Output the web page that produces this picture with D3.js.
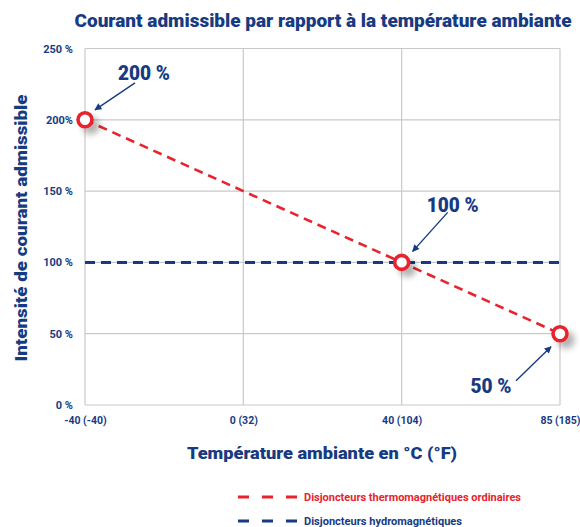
<!DOCTYPE html>
<html><head><meta charset="utf-8">
<script src="https://cdn.jsdelivr.net/npm/d3@7"></script>
<style>
html,body{margin:0;padding:0;background:#fff;}
svg{display:block;font-family:Roboto,"Open Sans",sans-serif;}
</style></head>
<body>
<svg id="chart" width="580" height="527"></svg>
<script>
// ---- data ----
const categories = ["-40 (-40)", "0 (32)", "40 (104)", "85 (185)"];
const thermoValues = [200, 150, 100, 50];
const hydroValues = [100, 100, 100, 100];
const markerLabels = ["200 %", null, "100 %", "50 %"];
const yTickValues = [0, 50, 100, 150, 200, 250];
const yTickLabels = ["0 %", "50 %", "100 %", "150 %", "200%", "250 %"];
const seriesNames = ["Disjoncteurs thermomagnétiques ordinaires", "Disjoncteurs hydromagnétiques"];
const titleText = "Courant admissible par rapport à la température ambiante";
const xTitleText = "Température ambiante en °C (°F)";
const yTitleText = "Intensité de courant admissible";

(function () {
// ---- styles ----
const NAVY = "#173b82", RED = "#e8232d", GRID = "#c9c9c9";
const svg = d3.select("#chart");
const pLeft = 85, pRight = 560, pTop = 48.5, pBottom = 405;

const x = d3.scalePoint().domain(categories).range([pLeft, pRight]);
const y = d3.scaleLinear().domain([0, 250]).range([pBottom, pTop]);

const defs = svg.append("defs");
const f = defs.append("filter").attr("id", "shadow").attr("x", "-50%").attr("y", "-50%").attr("width", "250%").attr("height", "250%");
f.append("feGaussianBlur").attr("in", "SourceAlpha").attr("stdDeviation", 3).attr("result", "b");
f.append("feOffset").attr("in", "b").attr("dx", 6).attr("dy", 6).attr("result", "o");
f.append("feComponentTransfer").attr("in", "o").attr("result", "o2")
  .append("feFuncA").attr("type", "linear").attr("slope", 0.3);
const fm = f.append("feMerge");
fm.append("feMergeNode").attr("in", "o2");
fm.append("feMergeNode").attr("in", "SourceGraphic");

const mk = defs.append("marker").attr("id", "arrow").attr("viewBox", "0 0 10 10")
  .attr("refX", 9).attr("refY", 5).attr("markerWidth", 8).attr("markerHeight", 7)
  .attr("markerUnits", "userSpaceOnUse").attr("orient", "auto");
mk.append("path").attr("d", "M0,0 L10,5 L0,10 Z").attr("fill", NAVY);

// Title
svg.append("text").attr("x", 323).attr("y", 27).attr("text-anchor", "middle")
  .attr("font-size", 18).attr("font-weight", 900).attr("fill", NAVY)
  .attr("textLength", 497).attr("lengthAdjust", "spacingAndGlyphs").text(titleText);

// Grid
const g = svg.append("g");
g.selectAll(".hg").data(yTickValues).join("line")
  .attr("x1", pLeft).attr("x2", pRight).attr("y1", d => y(d)).attr("y2", d => y(d))
  .attr("stroke", GRID).attr("stroke-width", 1.2);
g.selectAll(".vg").data(categories).join("line")
  .attr("x1", d => x(d)).attr("x2", d => x(d)).attr("y1", pTop).attr("y2", pBottom)
  .attr("stroke", GRID).attr("stroke-width", 1.2);

// Y axis tick labels
const yAxis = d3.axisLeft(y).tickValues(yTickValues).tickSize(0).tickPadding(12)
  .tickFormat((d, i) => yTickLabels[i]);
const ya = svg.append("g").attr("transform", `translate(${pLeft},0)`).call(yAxis);
ya.select(".domain").remove();
ya.selectAll("text").attr("fill", NAVY).attr("font-size", 11).attr("font-weight", 700)
  .attr("font-family", "Roboto, sans-serif");

// X axis tick labels
const xAxis = d3.axisBottom(x).tickSize(0).tickPadding(12);
const xa = svg.append("g").attr("transform", `translate(0,${pBottom})`).call(xAxis);
xa.select(".domain").remove();
xa.selectAll("text").attr("fill", NAVY).attr("font-size", 10.5).attr("font-weight", 700)
  .attr("font-family", "Roboto, sans-serif");

// Axis titles
svg.append("text").attr("x", 322).attr("y", 459).attr("text-anchor", "middle")
  .attr("font-size", 17).attr("font-weight", 900).attr("fill", NAVY)
  .attr("textLength", 270).attr("lengthAdjust", "spacingAndGlyphs").text(xTitleText);
svg.append("text").attr("transform", "translate(27,228) rotate(-90)").attr("text-anchor", "middle")
  .attr("font-size", 17).attr("font-weight", 900).attr("fill", NAVY)
  .attr("textLength", 267).attr("lengthAdjust", "spacingAndGlyphs").text(yTitleText);

// Lines
const line = d3.line().x((d, i) => x(categories[i])).y(d => y(d));
svg.append("path").datum(hydroValues).attr("d", line).attr("fill", "none")
  .attr("stroke", NAVY).attr("stroke-width", 3).attr("stroke-dasharray", "10,6");
svg.append("path").datum(thermoValues).attr("d", line).attr("fill", "none")
  .attr("stroke", RED).attr("stroke-width", 2.6).attr("stroke-dasharray", "9,6");

// Markers
const pts = thermoValues.map((v, i) => ({ v, i, label: markerLabels[i] })).filter(d => d.label);
svg.selectAll(".pt").data(pts).join("circle")
  .attr("cx", d => x(categories[d.i])).attr("cy", d => y(d.v)).attr("r", 7)
  .attr("fill", "#fff").attr("stroke", RED).attr("stroke-width", 3.6)
  .attr("filter", "url(#shadow)");

// Annotations (offsets relative to point)
const annot = { "200 %": { t: [59, -47], a: [50, -37], b: [10, -10], w: 52 },
                "100 %": { t: [51, -58], a: [46, -50], b: [11, -11], w: 52 },
                "50 %":  { t: [-69, 52], a: [-44, 47], b: [-9, 13], w: 41 } };
pts.forEach(d => {
  const cx = x(categories[d.i]), cy = y(d.v), o = annot[d.label];
  svg.append("line").attr("x1", cx + o.a[0]).attr("y1", cy + o.a[1])
    .attr("x2", cx + o.b[0]).attr("y2", cy + o.b[1])
    .attr("stroke", NAVY).attr("stroke-width", 1.4).attr("marker-end", "url(#arrow)");
  svg.append("text").attr("x", cx + o.t[0]).attr("y", cy + o.t[1]).attr("dy", "0.36em")
    .attr("text-anchor", "middle").attr("font-size", 20).attr("font-weight", 900)
    .attr("fill", NAVY).attr("textLength", o.w).attr("lengthAdjust", "spacingAndGlyphs").text(d.label);
});

// Legend
const legend = [{ name: seriesNames[0], color: RED, y: 497, w: 217 }, { name: seriesNames[1], color: NAVY, y: 521, w: 158 }];
legend.forEach(l => {
  svg.append("line").attr("x1", 238).attr("x2", 297).attr("y1", l.y).attr("y2", l.y)
    .attr("stroke", l.color).attr("stroke-width", 3).attr("stroke-dasharray", "11,13");
  svg.append("text").attr("x", 304).attr("y", l.y).attr("dy", "0.36em")
    .attr("font-size", 11).attr("font-weight", 700).attr("fill", l.color)
    .attr("textLength", l.w).attr("lengthAdjust", "spacingAndGlyphs").text(l.name);
});
})();
</script>
</body></html>
